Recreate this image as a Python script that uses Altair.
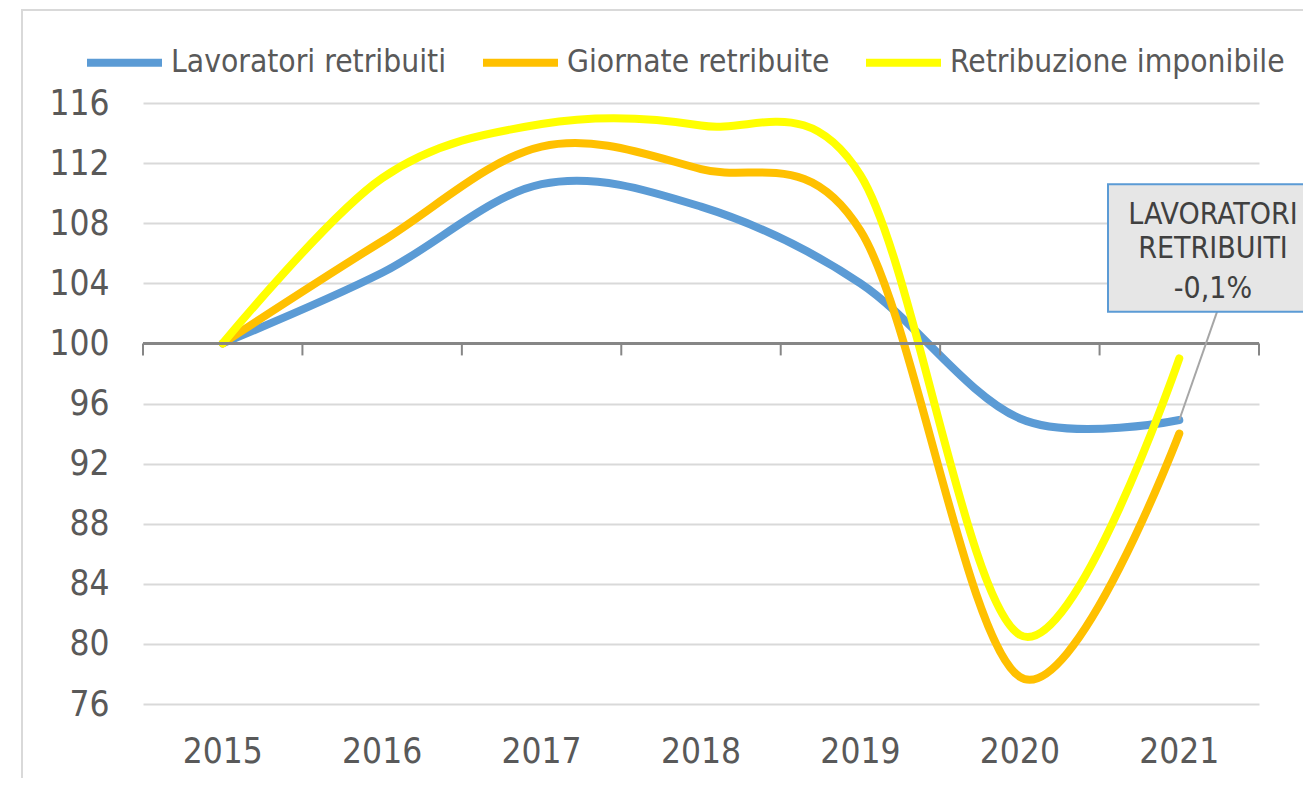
import altair as alt
import pandas as pd

years = ["2015", "2016", "2017", "2018", "2019", "2020", "2021"]
lavoratori = [100, 104.7, 110.6, 109.1, 104.0, 95.0, 94.9]
giornate = [100, 106.8, 113.1, 111.6, 107.5, 77.8, 94.0]
retribuzione = [100, 111.0, 114.6, 114.5, 111.2, 80.6, 99.0]
series_names = ["Lavoratori retribuiti", "Giornate retribuite", "Retribuzione imponibile"]
series_colors = ["#5B9BD5", "#FFC000", "#FFFF00"]
y_ticks = [76, 80, 84, 88, 92, 96, 100, 104, 108, 112, 116]
annot_lines = ["LAVORATORI", "RETRIBUITI", "-0,1%"]
annot_line_y = [108.55, 106.25, 103.65]

FONT = "DejaVu Sans Condensed, Liberation Sans Narrow, DejaVu Sans"

rows = []
for k, (name, vals) in enumerate(zip(series_names, [lavoratori, giornate, retribuzione])):
    for yr, v in zip(years, vals):
        rows.append({"anno": yr, "valore": v, "serie": name, "ord": k})
df = pd.DataFrame(rows)

W, H = 1116, 601

xscale = alt.Scale(type="band", domain=years, paddingInner=0, paddingOuter=0)
yscale = alt.Scale(domain=[76, 116], nice=False, zero=False)

# background frame of the chart area
frame = alt.Chart(pd.DataFrame({"a": [0]})).mark_rect(
    fill=None, stroke="#D9D9D9", strokeWidth=2
).encode(x=alt.value(-121), x2=alt.value(1400), y=alt.value(-93), y2=alt.value(900))

lines = alt.Chart(df).mark_line(
    interpolate="cardinal", tension=0, strokeWidth=8, strokeCap="round", strokeJoin="round"
).encode(
    x=alt.X("anno:O", scale=xscale,
            axis=alt.Axis(title=None, domain=False, ticks=False, grid=False,
                          labelFontSize=35, labelFont=FONT, labelColor="#595959",
                          labelPadding=30, labelAngle=0)),
    y=alt.Y("valore:Q", scale=yscale,
            axis=alt.Axis(title=None, values=y_ticks, domain=False, ticks=False,
                          grid=True, gridColor="#D9D9D9", gridWidth=2,
                          labelFontSize=35, labelFont=FONT, labelColor="#595959",
                          labelPadding=34)),
    color=alt.Color("serie:N",
                    scale=alt.Scale(domain=series_names, range=series_colors),
                    legend=alt.Legend(title=None, orient="none", legendX=-60, legendY=-82,
                                      direction="horizontal", symbolType="stroke",
                                      symbolStrokeWidth=8, symbolSize=5625,
                                      labelFontSize=31.5, labelFont=FONT, labelColor="#595959",
                                      labelOffset=5, columnPadding=20, labelLimit=500)),
    order=alt.Order("ord:Q"),
    detail="serie:N",
)

# horizontal category axis crossing at 100
base_df = pd.DataFrame({"anno": years, "v": [100] * len(years), "v2": [99.2] * len(years)})
axis_line = alt.Chart(base_df).mark_rule(color="#868686", strokeWidth=2).encode(
    x=alt.value(0), x2=alt.value(W), y=alt.Y("v:Q", scale=yscale)
)
ticks_start = alt.Chart(base_df).mark_rule(color="#868686", strokeWidth=2).encode(
    x=alt.X("anno:O", scale=xscale, bandPosition=0),
    y=alt.Y("v:Q", scale=yscale), y2="v2:Q",
)
ticks_end = alt.Chart(base_df.tail(1)).mark_rule(color="#868686", strokeWidth=2).encode(
    x=alt.X("anno:O", scale=xscale, bandPosition=1),
    y=alt.Y("v:Q", scale=yscale), y2="v2:Q",
)

annot_df = pd.DataFrame({"anno": ["2021"], "yv": [94.9], "top": [110.6], "bot": [102.1]})
text_df = pd.DataFrame({"t": annot_lines, "y": annot_line_y})

leader = alt.Chart(annot_df).mark_rule(color="#A6A6A6", strokeWidth=2).encode(
    x=alt.X("anno:O", scale=xscale),
    y=alt.Y("yv:Q", scale=yscale),
    x2=alt.value(1074),
    y2=alt.Y2("bot:Q"),
)

box = alt.Chart(annot_df).mark_rect(fill="#E6E6E6", stroke="#5B9BD5", strokeWidth=2).encode(
    x=alt.value(965), x2=alt.value(1200),
    y=alt.Y("top:Q", scale=yscale), y2=alt.Y2("bot:Q"),
)

annot_text = alt.Chart(text_df).mark_text(
    font=FONT, fontSize=30, color="#404040", align="center", baseline="middle"
).encode(
    x=alt.value(1070),
    y=alt.Y("y:Q", scale=yscale),
    text="t:N",
)

chart = alt.layer(frame, lines, axis_line, ticks_start, ticks_end, leader, box, annot_text).properties(
    width=W, height=H,
    autosize=alt.AutoSizeParams(type="none"),
    padding={"left": 135, "top": 95, "right": 44, "bottom": 74},
).configure_view(stroke=None)

chart.save("out.html", embed_options={"renderer": "svg", "actions": False})
